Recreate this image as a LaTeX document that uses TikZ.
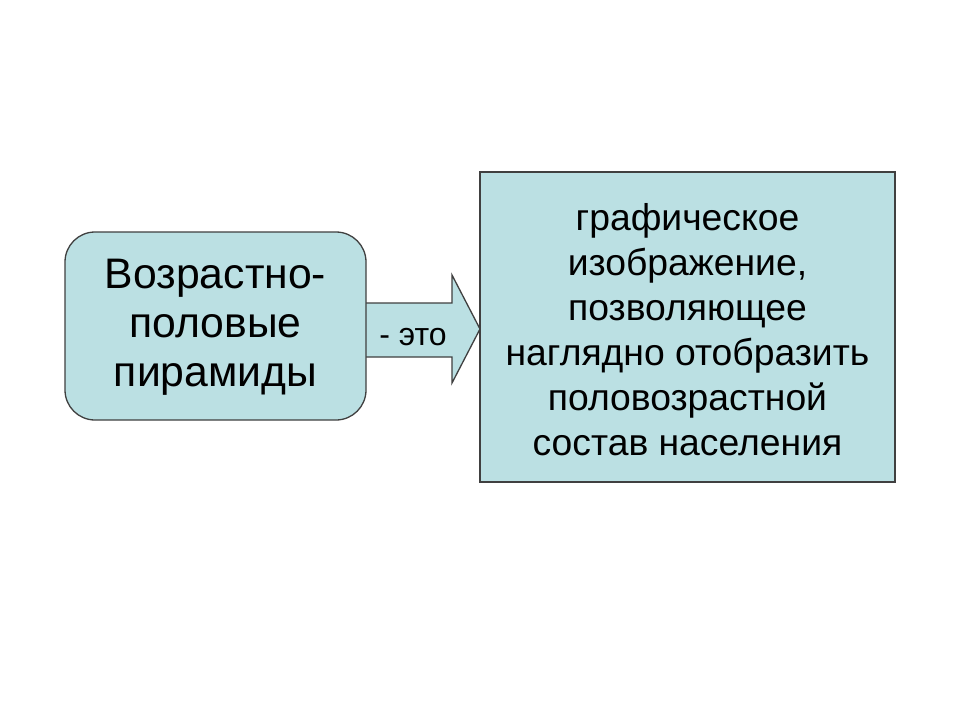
\documentclass[tikz,border=0pt]{standalone}
\usepackage{fontspec}
\setmainfont{Liberation Sans}
\definecolor{boxfill}{RGB}{187,224,227}
\definecolor{boxline}{RGB}{64,64,64}
\tikzset{
  shapebox/.style={draw=boxline, fill=boxfill, line width=1.3bp},
  bigtext/.style={align=center, font=\fontsize{42.7bp}{49bp}\selectfont, inner sep=0pt},
  midtext/.style={align=center, font=\fontsize{37.3bp}{45bp}\selectfont, inner sep=0pt},
  smalltext/.style={align=center, font=\fontsize{32bp}{38bp}\selectfont, inner sep=0pt}
}
\begin{document}
\begin{tikzpicture}[x=1bp,y=-1bp]
\useasboundingbox[fill=white] (0,0) rectangle (960,720);
% arrow
\draw[shapebox, line join=miter] (355,303) -- (452,303) -- (452,275) -- (480,329) -- (452,383) -- (452,357) -- (355,357) -- cycle;
\node[smalltext] (eto) at (413,337) {- это};
% left box
\draw[shapebox, rounded corners=30bp] (65,232) rectangle (366,420);
\node[bigtext] (left) at (215.5,327) {Возрастно-\\половые\\пирамиды};
% right box
\draw[shapebox] (480,172) rectangle (895,482);
\node[midtext] (right) at (687.5,330) {графическое\\изображение,\\позволяющее\\наглядно отобразить\\половозрастной\\состав населения};
\end{tikzpicture}
\end{document}
